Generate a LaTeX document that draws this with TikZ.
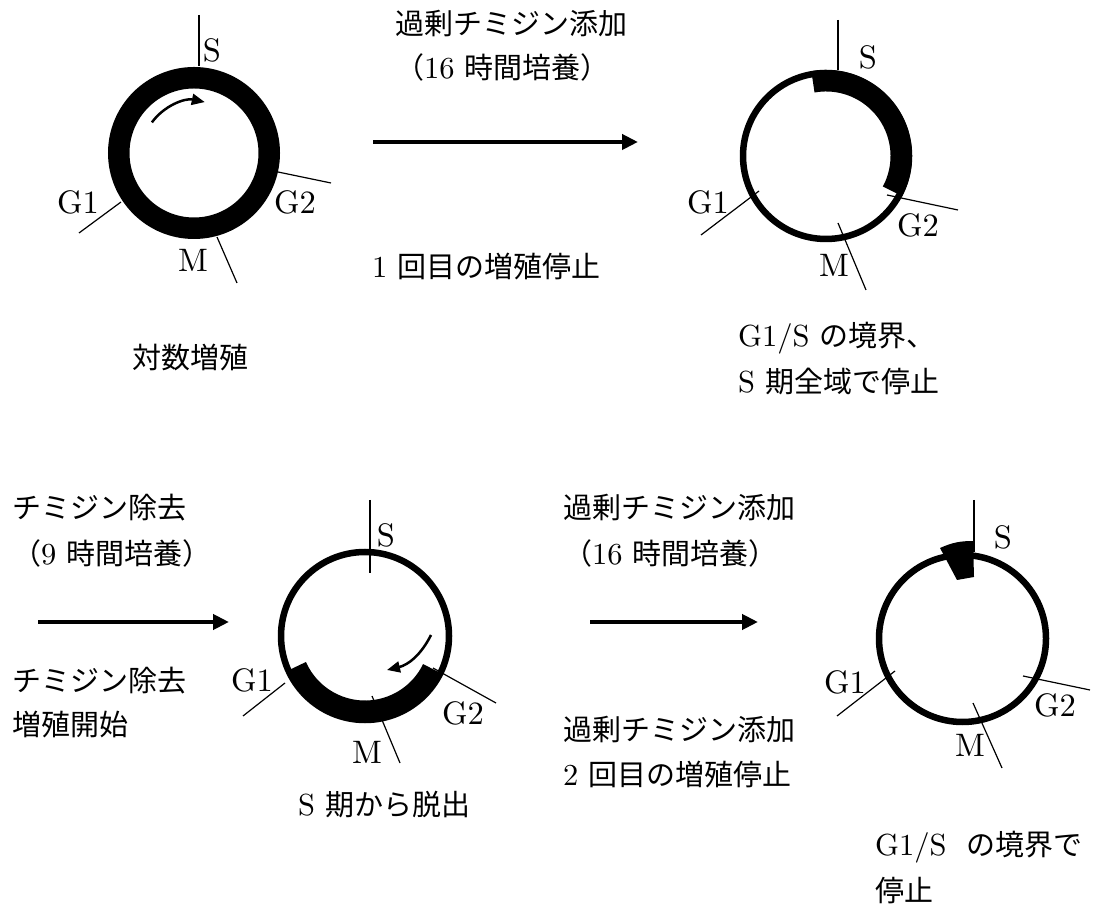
\documentclass[tikz,border=0pt]{standalone}
\usepackage{fontspec}
\setmainfont{lmroman10-regular.otf}
\newfontfamily\cjk{Noto Sans CJK JP}
\usetikzlibrary{arrows.meta}
\newcommand{\jp}[1]{{\fontsize{29}{29}\selectfont\cjk #1}}
\begin{document}
\begin{tikzpicture}[x=1pt,y=1pt,
  txt/.style={inner sep=0pt, anchor=west, font=\fontsize{30.5}{30.5}\selectfont},
  lbl/.style={inner sep=0pt, font=\fontsize{32.5}{32.5}\selectfont},
  tick/.style={line width=1.2pt},
  ring/.style={line width=6.5pt},
  band/.style={line width=21.5pt},
  bigarrow/.style={line width=4pt, -{Triangle[length=16pt,width=15pt]}},
  cycarrow/.style={line width=2.5pt, -{Triangle[length=13pt,width=11pt]}}
]
\useasboundingbox (0,0) rectangle (1094,910);

% ---------- circle 1 ----------
\coordinate (c1) at (194,757);
\draw[band] (c1) circle (75.25);
\draw[tick] (199,895) -- (199,844);
\draw[tick] (79,677) -- (121,708);
\draw[tick] (278,738) -- (331,727);
\draw[tick] (217,673) -- (237,627);
\draw[cycarrow] (151.9,787.6) arc[start angle=144, end angle=78, radius=52];
\node[lbl] (c1s) at (212,860) {S};
\node[lbl] (c1g1) at (78,708) {G1};
\node[lbl] (c1g2) at (295,708) {G2};
\node[lbl] (c1m) at (193,650) {M};

% ---------- circle 2 ----------
\coordinate (c2) at (826,754);
\draw[ring] (c2) circle (83);
\draw[band] (c2) ++(100:75.25) arc[start angle=100, end angle=-28, radius=75.25];
\draw[tick] (838,890) -- (838,840);
\draw[tick] (701,675) -- (759,719);
\draw[tick] (887,715) -- (958,700);
\draw[tick] (838,687) -- (866,620);
\node[lbl] (c2s) at (868,853) {S};
\node[lbl] (c2g1) at (708,708) {G1};
\node[lbl] (c2g2) at (918,685) {G2};
\node[lbl] (c2m) at (834,645) {M};

% ---------- circle 3 ----------
\coordinate (c3) at (365,274);
\draw[ring] (c3) circle (84);
\draw[band] (c3) ++(204:75.25) arc[start angle=204, end angle=334, radius=75.25];
\draw[tick] (370,410) -- (370,337);
\draw[tick] (243,194) -- (285,227);
\draw[tick] (433,242) -- (496,207);
\draw[tick] (372,214) -- (400,147);
\draw[cycarrow] (431,275) to[bend left=25] (387,240);
\node[lbl] (c3s) at (386,375) {S};
\node[lbl] (c3g1) at (252,230) {G1};
\node[lbl] (c3g2) at (463,197) {G2};
\node[lbl] (c3m) at (367,158) {M};

% ---------- circle 4 ----------
\coordinate (c4) at (962.5,271.5);
\draw[ring] (c4) circle (83.5);
\fill (940,362) to[bend left=12] (973,369) -- (974,333) -- (957,330) -- cycle;
\draw[tick] (974,410) -- (974,358);
\draw[tick] (837,194) -- (895,239);
\draw[tick] (1023,234) -- (1090,220);
\draw[tick] (973,207) -- (1002,142);
\node[lbl] (c4s) at (1003,373) {S};
\node[lbl] (c4g1) at (845,228) {G1};
\node[lbl] (c4g2) at (1055,205) {G2};
\node[lbl] (c4m) at (970,165) {M};

% ---------- arrows ----------
\coordinate (a1s) at (373,768); \coordinate (a1e) at (638,768);
\coordinate (a2s) at (38,288);  \coordinate (a2e) at (229,288);
\coordinate (a3s) at (590,288); \coordinate (a3e) at (758,288);
\draw[bigarrow] (a1s) -- (a1e);
\draw[bigarrow] (a2s) -- (a2e);
\draw[bigarrow] (a3s) -- (a3e);

% ---------- texts ----------
\node[txt] (t1) at (395,886) {\jp{過剰チミジン添加}};
\node[txt] (t2) at (395,843) {\jp{（}16 \jp{時間培養）}};
\node[txt] (t3) at (372,643) {1 \jp{回目の増殖停止}};
\node[txt] (t4) at (132,552) {\jp{対数増殖}};
\node[txt] (t5) at (738,572) {G1/S \jp{の境界、}};
\node[txt] (t6) at (738,528) {S \jp{期全域で停止}};

\node[txt] (t7) at (12,402) {\jp{チミジン除去}};
\node[txt] (t8) at (12,357) {\jp{（}9 \jp{時間培養）}};
\node[txt] (t9) at (12,229) {\jp{チミジン除去}};
\node[txt] (t10) at (12,185) {\jp{増殖開始}};

\node[txt] (t11) at (563,402) {\jp{過剰チミジン添加}};
\node[txt] (t12) at (563,357) {\jp{（}16 \jp{時間培養）}};
\node[txt] (t13) at (563,180) {\jp{過剰チミジン添加}};
\node[txt] (t14) at (563,135) {2 \jp{回目の増殖停止}};

\node[txt] (t15) at (298,105) {S \jp{期から脱出}};
\node[txt] (t16) at (875,63) {G1/S\ \ \jp{の境界で}};
\node[txt] (t17) at (875,19) {\jp{停止}};
\end{tikzpicture}
\end{document}
